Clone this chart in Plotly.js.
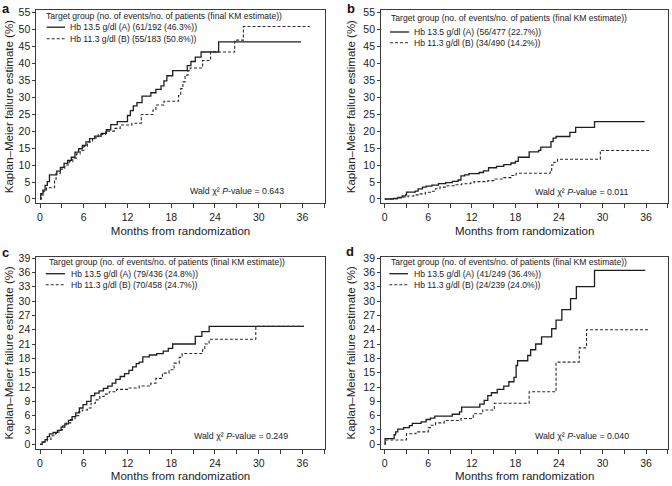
<!DOCTYPE html>
<html><head><meta charset="utf-8">
<script src="https://cdn.plot.ly/plotly-3.0.1.min.js"></script>
<style>html,body{margin:0;padding:0;background:#fff}#chart{width:672px;height:486px}</style>
</head><body><div id="chart"></div>
<script>
// ---------- DATA ----------
const panelLetters = ['a', 'b', 'c', 'd'];
const legendTitle = 'Target group (no. of events/no. of patients (final KM estimate))';
const namesA = ['Hb 13.5 g/dl (A) (61/192 (46.3%))', 'Hb 11.3 g/dl (B) (55/183 (50.8%))'];
const namesB = ['Hb 13.5 g/dl (A) (56/477 (22.7%))', 'Hb 11.3 g/dl (B) (34/490 (14.2%))'];
const namesC = ['Hb 13.5 g/dl (A) (79/436 (24.8%))', 'Hb 11.3 g/dl (B) (70/458 (24.7%))'];
const namesD = ['Hb 13.5 g/dl (A) (41/249 (36.4%))', 'Hb 11.3 g/dl (B) (24/239 (24.0%))'];
const pValues = ['0.643', '0.011', '0.249', '0.040'];
const xTitle = 'Months from randomization';
const yTitle = 'Kaplan\u2013Meier failure estimate (%)';
const xTickVals = [0, 6, 12, 18, 24, 30, 36];
const xMinorVals = [3, 9, 15, 21, 27, 33, 39];
const yTicksTop = [0, 5, 10, 15, 20, 25, 30, 35, 40, 45, 50, 55];
const yTicksBottom = [0, 3, 6, 9, 12, 15, 18, 21, 24, 27, 30, 33, 36, 39];

// panel a
const aA_t = [0, 0.1, 0.4, 0.7, 1.0, 1.3, 2.3, 2.8, 3.3, 3.8, 4.3, 4.8, 5.3, 5.8, 6.3, 6.8, 7.5, 8.4, 9.1, 9.7, 10.6, 12.0, 12.4, 12.8, 13.3, 14.0, 15.2, 15.9, 16.6, 17.0, 17.4, 18.2, 20.2, 20.7, 21.3, 22.1, 24.5, 35.8];
const aA_v = [0, 1.6, 2.6, 4.0, 5.1, 7.1, 8.2, 9.3, 10.5, 11.4, 12.3, 13.8, 14.8, 15.8, 16.8, 17.8, 18.5, 19.3, 20.4, 21.9, 22.8, 24.6, 26.0, 27.4, 28.4, 30.3, 31.3, 32.3, 33.3, 34.8, 36.3, 37.8, 39.3, 40.5, 41.8, 43.3, 46.3, 46.3];
const aB_t = [0, 0.2, 0.5, 0.9, 2.0, 2.2, 2.8, 3.4, 4.0, 4.5, 5.0, 5.5, 6.0, 6.5, 7.2, 8.0, 9.0, 10.2, 11.0, 12.6, 13.9, 15.5, 15.9, 17.0, 19.0, 19.3, 19.6, 19.9, 20.3, 20.6, 22.3, 23.4, 26.7, 27.9, 37.0];
const aB_v = [0, 1.2, 2.3, 3.3, 5.5, 7.6, 8.8, 10.0, 11.0, 12.0, 13.3, 14.3, 15.5, 16.8, 18.0, 19.0, 20.0, 20.8, 21.8, 22.3, 24.9, 26.2, 27.7, 28.8, 30.5, 32.5, 34.5, 36.5, 37.8, 38.6, 40.8, 43.3, 46.8, 50.8, 50.8];
// panel b
const bA_t = [0, 1.2, 1.8, 2.4, 2.9, 3.0, 4.2, 4.6, 5.2, 5.7, 6.5, 7.4, 8.4, 9.3, 10.1, 10.5, 11.0, 11.6, 13.0, 13.6, 14.3, 15.4, 16.4, 17.4, 18.0, 18.4, 19.9, 21.2, 21.5, 22.9, 23.2, 23.6, 25.5, 26.3, 28.9, 35.8];
const bA_v = [0, 0.2, 0.5, 0.9, 1.3, 2.0, 2.3, 3.0, 3.5, 3.8, 4.1, 4.5, 4.8, 5.2, 5.6, 6.8, 7.1, 7.5, 7.8, 8.3, 9.2, 9.6, 10.1, 10.6, 11.1, 12.3, 13.9, 14.3, 15.3, 16.9, 17.9, 18.4, 19.6, 21.1, 22.8, 22.8];
const bB_t = [0, 2.0, 2.6, 3.2, 4.0, 4.8, 5.6, 6.4, 7.0, 7.6, 8.6, 9.6, 10.6, 11.8, 12.3, 14.2, 15.2, 16.4, 17.4, 18.1, 22.8, 23.0, 23.3, 23.8, 29.7, 36.4];
const bB_v = [0, 0.3, 0.6, 0.9, 1.2, 1.5, 2.0, 2.3, 3.0, 3.5, 3.9, 4.2, 4.5, 4.7, 5.1, 5.4, 5.9, 6.3, 6.9, 7.6, 8.5, 10.0, 10.8, 11.7, 14.3, 14.3];
// panel c
const cA_t = [0, 0.3, 0.7, 1.0, 1.3, 1.8, 2.4, 2.9, 3.4, 3.9, 4.4, 4.9, 5.4, 5.9, 6.4, 7.0, 7.5, 8.1, 8.7, 9.3, 9.9, 10.4, 11.0, 11.6, 12.2, 12.7, 13.2, 13.6, 14.1, 15.0, 16.0, 16.9, 17.6, 18.2, 21.3, 22.2, 23.2, 36.2];
const cA_v = [0, 0.5, 1.0, 1.6, 2.2, 2.5, 2.9, 3.6, 4.3, 5.0, 5.8, 6.6, 7.6, 8.3, 9.0, 10.2, 10.7, 11.2, 11.7, 12.2, 12.8, 13.6, 14.2, 14.8, 15.5, 16.2, 16.9, 17.2, 18.3, 18.7, 19.0, 19.5, 20.1, 21.0, 22.6, 23.6, 24.7, 24.7];
const cB_t = [0, 0.5, 1.0, 1.5, 2.1, 2.6, 3.1, 3.6, 4.2, 4.8, 5.3, 5.8, 6.5, 7.0, 7.6, 8.2, 8.8, 9.5, 10.5, 12.0, 13.6, 15.2, 15.9, 16.8, 17.7, 18.4, 19.1, 19.5, 22.3, 22.6, 23.2, 29.6, 36.2];
const cB_v = [0, 0.5, 1.0, 1.8, 2.3, 3.0, 3.9, 4.5, 5.2, 6.0, 6.8, 7.2, 7.6, 8.6, 9.3, 10.0, 10.5, 11.0, 11.5, 11.8, 12.2, 12.8, 13.8, 14.9, 15.6, 17.0, 18.2, 19.0, 19.8, 21.0, 22.0, 24.7, 24.7];
// panel d
const dA_t = [0, 0.05, 1.3, 1.5, 1.8, 2.6, 3.4, 3.8, 5.0, 5.7, 6.3, 6.9, 9.3, 10.3, 10.6, 13.1, 13.7, 14.2, 14.7, 15.5, 16.4, 17.1, 17.8, 18.1, 18.3, 19.7, 20.1, 20.8, 21.6, 23.0, 23.6, 24.4, 25.6, 26.4, 28.9, 35.9];
const dA_v = [0, 1.2, 2.0, 2.6, 3.2, 3.5, 3.9, 4.4, 4.7, 5.2, 5.5, 5.9, 6.3, 6.8, 7.8, 8.4, 9.2, 10.2, 10.8, 11.5, 12.2, 13.1, 14.0, 16.5, 17.5, 18.6, 19.8, 21.0, 22.5, 24.2, 26.0, 28.2, 30.5, 33.0, 36.4, 36.4];
const dB_t = [0, 0.1, 3.0, 4.3, 6.0, 6.4, 7.0, 8.2, 10.5, 12.2, 13.5, 15.1, 19.9, 23.6, 26.8, 27.8, 36.4];
const dB_v = [0, 0.9, 2.2, 2.6, 3.5, 4.0, 4.5, 5.0, 5.4, 6.4, 7.2, 8.6, 11.0, 17.2, 20.2, 24.0, 24.0];

// ---------- LAYOUT (pixel geometry) ----------
const W = 672, H = 486;
const FONT = '"Liberation Sans", Arial, sans-serif';
const INK = '#222';
const AX = '#3c3c3c';
const px = x => x / W;
const py = y => 1 - y / H;

const panels = [
  {sx: '', x0: 36.35, x1: 324.7, top: 9.9, bottom: 203.4, yr: [-1.3, 55.7], yt: yTicksTop,
   series: [[aA_t, aA_v], [aB_t, aB_v]], names: namesA,
   leg: {tx: 44.2, ty: 15.7, lx0: 46.7, lx1: 65, tx2: 67.5, r1: 27.2, r2: 38.8},
   wald: {x: 237, y: 190.7}, letter: {x: 5.5, y: 8.5}, ysd: 2},
  {sx: '2', x0: 381.1, x1: 668.2, top: 9.9, bottom: 203.4, yr: [-1.3, 55.7], yt: yTicksTop,
   series: [[bA_t, bA_v], [bB_t, bB_v]], names: namesB,
   leg: {tx: 388.5, ty: 18.3, lx0: 390, lx1: 409, tx2: 411.8, r1: 32, r2: 42.8},
   wald: {x: 581.5, y: 191.7}, letter: {x: 351, y: 8.5}, ysd: 5},
  {sx: '3', x0: 36.35, x1: 324.7, top: 256.6, bottom: 449.1, yr: [-1.0, 39.3], yt: yTicksBottom,
   series: [[cA_t, cA_v], [cB_t, cB_v]], names: namesC,
   leg: {tx: 46.8, ty: 262, lx0: 45.7, lx1: 65, tx2: 68.5, r1: 273.7, r2: 284.7},
   wald: {x: 241, y: 435.7}, letter: {x: 5.5, y: 252}, ysd: 2},
  {sx: '4', x0: 381.1, x1: 668.2, top: 256.6, bottom: 449.1, yr: [-1.0, 39.3], yt: yTicksBottom,
   series: [[dA_t, dA_v], [dB_t, dB_v]], names: namesD,
   leg: {tx: 388.5, ty: 262, lx0: 389.3, lx1: 408, tx2: 411.8, r1: 273.7, r2: 284.7},
   wald: {x: 581.5, y: 436.3}, letter: {x: 350, y: 251}, ysd: 5}
];

const lineStyles = [
  {color: '#1e1e1e', width: 1.3, dash: 'solid'},
  {color: '#2a2a2a', width: 1.1, dash: '3px,2px'}
];

const traces = [];
const layout = {
  width: W, height: H,
  margin: {l: 0, r: 0, t: 0, b: 0},
  paper_bgcolor: '#fff', plot_bgcolor: '#fff',
  font: {family: FONT, color: INK, size: 10.5},
  showlegend: false,
  annotations: [], shapes: []
};

panels.forEach((p, i) => {
  const xa = 'x' + p.sx, ya = 'y' + p.sx;
  p.series.forEach((s, k) => {
    traces.push({
      type: 'scatter', mode: 'lines', x: s[0], y: s[1], name: p.names[k],
      xaxis: xa, yaxis: ya, line: Object.assign({shape: 'hv'}, lineStyles[k]),
      hoverinfo: 'skip'
    });
  });
  layout['xaxis' + p.sx] = {
    domain: [px(p.x0), px(p.x1)], anchor: ya, range: [-0.5, 39.05],
    tickmode: 'array', tickvals: xTickVals, ticktext: xTickVals.map(String),
    showline: true, mirror: true, linecolor: AX, linewidth: 1,
    ticks: 'outside', ticklen: 4, tickcolor: AX, tickwidth: 1,
    minor: {tickmode: 'array', tickvals: xMinorVals, ticks: 'outside', ticklen: 4, tickcolor: AX, showgrid: false},
    tickfont: {size: 10.5, color: INK, family: FONT},
    title: {text: xTitle, font: {size: 11.5, color: INK, family: FONT}, standoff: 4},
    showgrid: false, zeroline: false, fixedrange: true
  };
  layout['yaxis' + p.sx] = {
    domain: [py(p.bottom), py(p.top)], anchor: xa, range: p.yr,
    tickmode: 'array', tickvals: p.yt, ticktext: p.yt.map(String),
    showline: true, mirror: true, linecolor: AX, linewidth: 1,
    ticks: 'outside', ticklen: 3, tickcolor: AX, tickwidth: 1,
    tickfont: {size: 10.5, color: INK, family: FONT},
    title: {text: yTitle, font: {size: 11.5, color: INK, family: FONT}, standoff: p.ysd},
    showgrid: false, zeroline: false, fixedrange: true
  };
  // panel letter
  layout.annotations.push({
    xref: 'paper', yref: 'paper', x: px(p.letter.x), y: py(p.letter.y),
    xanchor: 'center', yanchor: 'middle', showarrow: false,
    text: '<b>' + panelLetters[i] + '</b>', font: {size: 13, color: '#111', family: FONT}
  });
  // legend block
  const L = p.leg;
  layout.annotations.push({
    xref: 'paper', yref: 'paper', x: px(L.tx), y: py(L.ty), xanchor: 'left', yanchor: 'middle',
    showarrow: false, text: legendTitle, font: {size: 8.6, color: INK, family: FONT}
  });
  [L.r1, L.r2].forEach((ry, k) => {
    layout.annotations.push({
      xref: 'paper', yref: 'paper', x: px(L.tx2), y: py(ry), xanchor: 'left', yanchor: 'middle',
      showarrow: false, text: p.names[k], font: {size: 8.6, color: INK, family: FONT}
    });
    layout.shapes.push({
      type: 'line', xref: 'paper', yref: 'paper', x0: px(L.lx0), x1: px(L.lx1), y0: py(ry), y1: py(ry),
      line: {color: lineStyles[k].color, width: lineStyles[k].width, dash: lineStyles[k].dash}
    });
  });
  // Wald p-value
  layout.annotations.push({
    xref: 'paper', yref: 'paper', x: px(p.wald.x), y: py(p.wald.y), xanchor: 'center', yanchor: 'middle',
    showarrow: false, text: 'Wald \u03c7\u00b2 <i>P</i>-value = ' + pValues[i],
    font: {size: 8.8, color: INK, family: FONT}
  });
});

Plotly.newPlot('chart', traces, layout, {staticPlot: true, displayModeBar: false});
</script>
</body></html>
